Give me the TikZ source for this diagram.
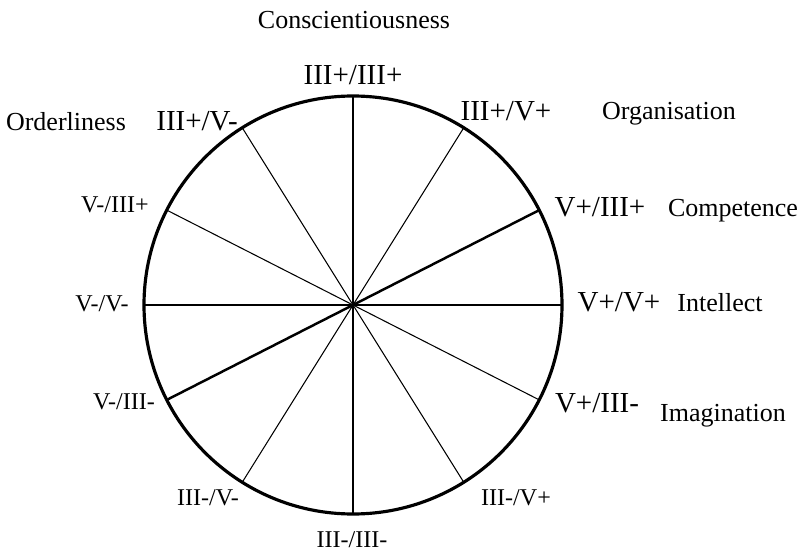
\documentclass[tikz,border=0pt]{standalone}
\usepackage{fontspec}
\setmainfont{Liberation Serif}

\begin{document}
\begin{tikzpicture}[every node/.style={inner sep=0pt, text height=1.48ex, text depth=0pt},
	trait/.style={font=\fontsize{14.8}{16}\selectfont},
	pole/.style={font=\fontsize{16.5}{18}\selectfont},
	minor/.style={font=\fontsize{13.7}{15}\selectfont},
	axis/.style={line width=1.4pt},
	spoke/.style={line width=0.6pt}]
			\useasboundingbox (-7.06,-4.98) rectangle (9.0,6.1);
			
			\node[draw, circle, line width=1.8pt, minimum size=8.36cm, outer sep=0pt] (wheel) at (0,0) {};
			
			\draw[axis] (wheel.0) -- (wheel.180);
			\draw[axis] (wheel.27) -- (wheel.207);
			\draw[axis] (wheel.90) -- (wheel.270);
			\draw[spoke] (wheel.58) -- (wheel.238);
			\draw[spoke] (wheel.122) -- (wheel.302);
			\draw[spoke] (wheel.153) -- (wheel.333);
			
			\node[trait] (consc) at (0.02,5.64) {Conscientiousness};
			\node[trait] (organ) at (6.32,3.82) {Organisation};
			\node[trait] (order) at (-5.74,3.60) {Orderliness};
			\node[trait] (compet) at (7.60,1.89) {Competence};
			\node[trait] (intel) at (7.34,-0.01) {Intellect};
			\node[trait] (imagin) at (7.40,-2.21) {Imagination};
			
			\node[pole] (p90) at (0,4.53) {III+/III+};
			\node[pole] (p58) at (3.06,3.80) {III+/V+};
			\node[pole] (p122) at (-3.12,3.60) {III+/V-};
			\node[pole] (p27) at (4.94,1.89) {V+/III+};
			\node[pole] (p0) at (5.32,-0.01) {V+/V+};
			\node[pole] (p333) at (4.88,-2.03) {V+/III-};
			
			\node[minor] (p153) at (-4.76,1.97) {V-/III+};
			\node[minor] (p180) at (-5.02,-0.01) {V-/V-};
			\node[minor] (p207) at (-4.58,-1.97) {V-/III-};
			\node[minor] (p238) at (-2.90,-3.89) {III-/V-};
			\node[minor] (p302) at (3.26,-3.89) {III-/V+};
			\node[minor] (p270) at (-0.02,-4.74) {III-/III-};
		\end{tikzpicture}
\end{document}
